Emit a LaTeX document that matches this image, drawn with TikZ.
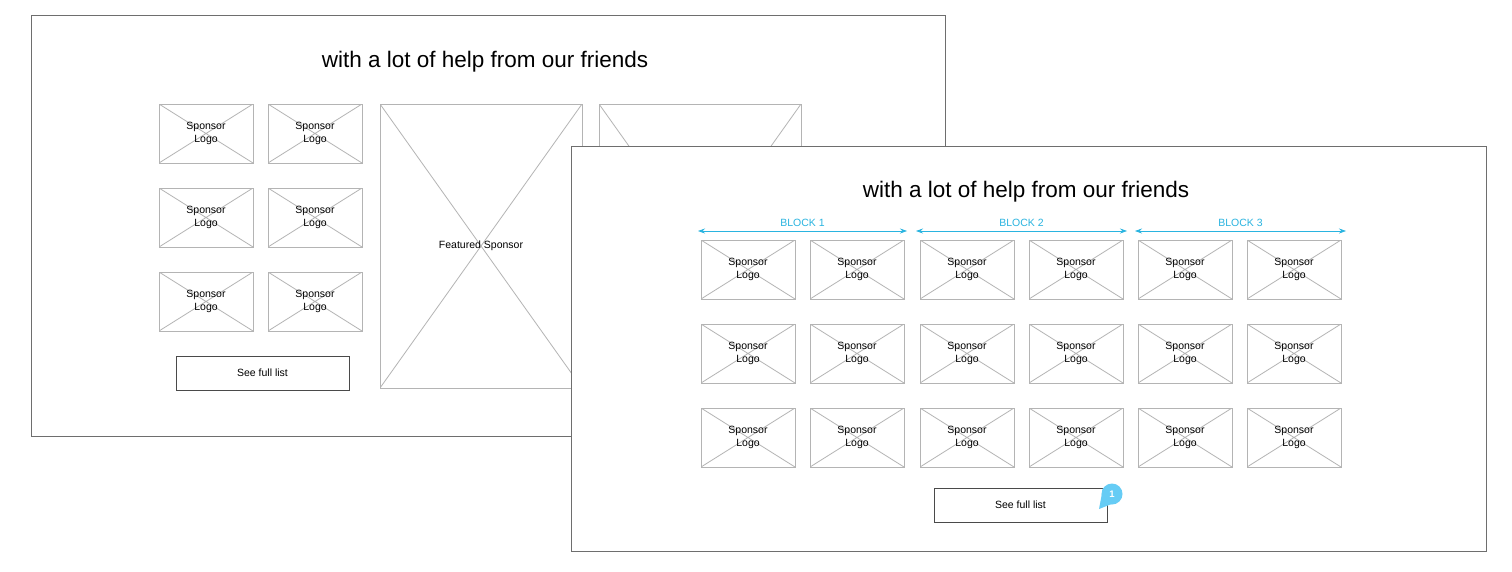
\documentclass[tikz,border=0pt]{standalone}
\usepackage{fontspec}
\setmainfont{Liberation Sans}
\usetikzlibrary{arrows.meta,positioning}
\definecolor{framegray}{HTML}{6E6E6E}
\definecolor{wiregray}{HTML}{B4B4B4}
\definecolor{btngray}{HTML}{4A4A4A}
\definecolor{blockcyan}{HTML}{2AB4E0}
\definecolor{badgeblue}{HTML}{66CCF5}

\begin{document}
\begin{tikzpicture}[x=1pt, y=-1pt,
    font=\fontsize{10.5}{12.5}\selectfont,
    panel/.style={draw=framegray, fill=white, line width=0.8pt,
                  anchor=north west, inner sep=0pt},
    titel/.style={font=\fontsize{22.5}{26}\selectfont},
    wirebox/.style={draw=wiregray, line width=1pt, inner sep=0pt, align=center,
                    path picture={\draw[wiregray, line width=0.8pt]
                      (path picture bounding box.north west) -- (path picture bounding box.south east)
                      (path picture bounding box.south west) -- (path picture bounding box.north east);}},
    logobox/.style={wirebox, minimum width=94pt, minimum height=59pt},
    featbox/.style={wirebox, minimum width=202pt, minimum height=284pt},
    btn/.style={draw=btngray, line width=0.9pt, minimum width=173pt, minimum height=34pt},
    blockpfeil/.style={{Stealth[length=7pt,width=5pt]}-{Stealth[length=7pt,width=5pt]}, blockcyan, line width=0.7pt},
    blocklabel/.style={text=blockcyan, font=\fontsize{10.5}{12}\selectfont}
  ]
    \useasboundingbox (0,0) rectangle (1512,571);
    % left panel
    \node[panel, minimum width=914pt, minimum height=421pt] (links) at (31,15) {};
    \node[titel] (titlinks) at (485,62) {with a lot of help from our friends};
    \foreach \c/\x in {1/206,2/315}
      \foreach \r/\y in {1/133.5,2/217.5,3/301.5}
        \node[logobox] (lsp-\r-\c) at (\x,\y) {Sponsor\\Logo};
    \node[featbox] (feat1) at (481,246) {Featured Sponsor};
    \node[featbox] (feat2) at (700,246) {};
    \node[btn] (btnlinks) at (262.5,373) {See full list};
    % right panel
    \node[panel, minimum width=915pt, minimum height=405pt] (rechts) at (571,146) {};
    \node[titel] (titrechts) at (1026,192) {with a lot of help from our friends};
    \foreach \b/\xa/\xb in {1/698/907,2/916/1127,3/1135/1346} {
      \coordinate (ba-\b) at (\xa,231);
      \coordinate (bb-\b) at (\xb,231);
      \draw[blockpfeil] (ba-\b) -- node[blocklabel, above=1pt] (bl-\b) {BLOCK \b} (bb-\b);
    }
    \foreach \c/\x in {1/748,2/857,3/967,4/1076,5/1185,6/1294}
      \foreach \r/\y in {1/269.5,2/353.5,3/437.5}
        \node[logobox] (rsp-\r-\c) at (\x,\y) {Sponsor\\Logo};
    \node[btn] (btnrechts) at (1020.5,505) {See full list};
    % comment badge
    \fill[badgeblue] (1099,509) -- (1103,488) -- (1119,501) -- cycle;
    \node[circle, fill=badgeblue, minimum size=21pt, inner sep=0pt, text=white,
          font=\fontsize{9.5}{10}\selectfont\bfseries] (badge) at (1112,494) {1};
  \end{tikzpicture}
\end{document}
